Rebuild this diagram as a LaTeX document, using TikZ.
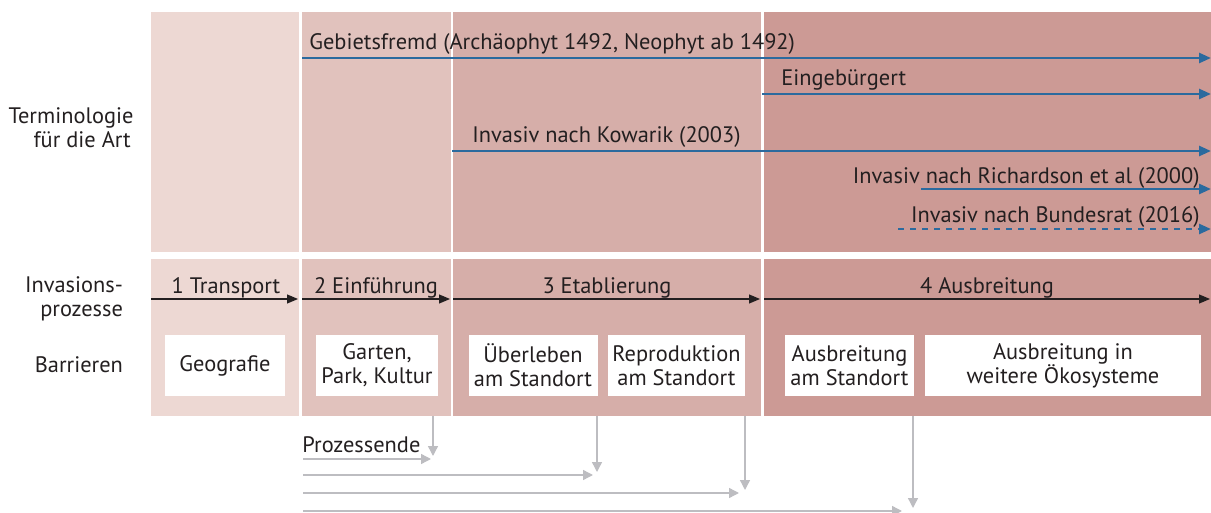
\documentclass[tikz,border=0pt]{standalone}
\usepackage{fontspec}
\setmainfont{PT Sans}
\usetikzlibrary{arrows.meta,positioning}
\definecolor{phaseA}{HTML}{EDD8D3}
\definecolor{phaseB}{HTML}{E1C2BD}
\definecolor{phaseC}{HTML}{D6AEA9}
\definecolor{phaseD}{HTML}{CC9A95}
\definecolor{termblue}{HTML}{2B6A9E}
\definecolor{inktext}{HTML}{231F20}
\definecolor{endgray}{HTML}{BDBDC1}
\tikzset{
  termarrow/.style={draw=termblue,line width=1.3pt,-{Triangle[length=6pt,width=5pt]}},
  procarrow/.style={draw=inktext,line width=0.6pt,-{Triangle[length=5.5pt,width=4.5pt]}},
  endarrow/.style={draw=endgray,line width=0.7pt,-{Triangle[length=5pt,width=5pt]}},
  barrierbox/.style={fill=white,minimum height=30.5pt,align=center,inner sep=0pt},
  sidelabel/.style={align=right,anchor=base east},
}
\begin{document}
\begin{tikzpicture}[x=0.5pt,y=-0.5pt,font=\fontsize{11.2}{12}\selectfont,text=inktext]
\useasboundingbox (0,0) rectangle (1211,513);

        %Background columns, terminology band
        \fill[phaseA] (151,12) rectangle (299,252); %transport
        \fill[phaseB] (302,12) rectangle (451,252); %introduction
        \fill[phaseC] (453,12) rectangle (761,252); %establishment
        \fill[phaseD] (764,12) rectangle (1211,252); %spread

        %Background columns, process band
        \fill[phaseA] (151,259) rectangle (299,416);
        \fill[phaseB] (302,259) rectangle (451,416);
        \fill[phaseC] (453,259) rectangle (761,416);
        \fill[phaseD] (764,259) rectangle (1211,416);

        %Row labels on the left
        \node[align=center] (termlabel) at (71,128) {Terminologie\\\hspace*{1em}für die Art};
        \node[sidelabel] (proclabel) at (130,317) {Invasions-\\prozesse};
        \node[sidelabel] (barrlabel) at (130,372) {Barrieren};

        %Terminology arrows
        \coordinate (gebS) at (302,58);   \coordinate (gebE) at (1211,58);
        \coordinate (einS) at (762,94);   \coordinate (einE) at (1211,94);
        \coordinate (kowS) at (452,151);  \coordinate (kowE) at (1211,151);
        \coordinate (ricS) at (921,189);  \coordinate (ricE) at (1211,189);
        \coordinate (bunS) at (898,229);  \coordinate (bunE) at (1211,229);
        \draw[termarrow] (gebS) -- (gebE);
        \draw[termarrow] (einS) -- (einE);
        \draw[termarrow] (kowS) -- (kowE);
        \draw[termarrow] (ricS) -- (ricE);
        \draw[termarrow,dashed] (bunS) -- (bunE);
        \node[anchor=base west,inner sep=0pt] (geblabel) at (309,50) {Gebietsfremd (Archäophyt 1492, Neophyt ab 1492)};
        \node[anchor=base west,inner sep=0pt] (einlabel) at (781,86) {Eingebürgert};
        \node[anchor=base west,inner sep=0pt] (kowlabel) at (472,143) {Invasiv nach Kowarik (2003)};
        \node[anchor=base east,inner sep=0pt] (riclabel) at (1200,184) {Invasiv nach Richardson et al (2000)};
        \node[anchor=base east,inner sep=0pt] (bunlabel) at (1200,223) {Invasiv nach Bundesrat (2016)};

        %Process arrows
        \coordinate (p0) at (151,299);
        \coordinate (p1) at (298,299); \coordinate (p1b) at (302,299);
        \coordinate (p2) at (450,299); \coordinate (p2b) at (453,299);
        \coordinate (p3) at (760,299); \coordinate (p3b) at (764,299);
        \coordinate (p4) at (1210,299);
        \draw[procarrow] (p0) -- (p1);
        \draw[procarrow] (p1b) -- (p2);
        \draw[procarrow] (p2b) -- (p3);
        \draw[procarrow] (p3b) -- (p4);
        \node[anchor=base,inner sep=0pt] (transport) at (226,294) {1 Transport};
        \node[anchor=base,inner sep=0pt] (einfuehrung) at (376,294) {2 Einführung};
        \node[anchor=base,inner sep=0pt] (etablierung) at (607,294) {3 Etablierung};
        \node[anchor=base,inner sep=0pt] (ausbreitung) at (987,294) {4 Ausbreitung};

        %Barriers
        \node[barrierbox,minimum width=60pt] (geo) at (225,365.5) {Geografie};
        \node[barrierbox,minimum width=61pt] (garten) at (377,365.5) {Garten,\\Park, Kultur};
        \node[barrierbox,minimum width=64.5pt] (ueberleben) at (533,365.5) {Überleben\\am Standort};
        \node[barrierbox,minimum width=68.5pt] (repro) at (676.5,365.5) {Reproduktion\\am Standort};
        \node[barrierbox,minimum width=64.5pt] (ausstand) at (849.5,365.5) {Ausbreitung\\am Standort};
        \node[barrierbox,minimum width=138pt] (ausweit) at (1063,365.5) {Ausbreitung in\\weitere Ökosysteme};

        %End of process arrows
        \node[anchor=base west,inner sep=0pt] (prozessende) at (302,452) {Prozessende};
        \coordinate (e1top) at (433,416);   \coordinate (e1end) at (433,456);
        \coordinate (e2top) at (597,416);   \coordinate (e2end) at (597,472);
        \coordinate (e3top) at (745,416);   \coordinate (e3end) at (745,490);
        \coordinate (e4top) at (913,416);   \coordinate (e4end) at (913,508);
        \coordinate (h1s) at (303,459);     \coordinate (h1e) at (431,459);
        \coordinate (h2s) at (303,475);     \coordinate (h2e) at (593,475);
        \coordinate (h3s) at (303,493);     \coordinate (h3e) at (739,493);
        \coordinate (h4s) at (303,511);     \coordinate (h4e) at (902,511);
        \draw[endarrow] (e1top) -- (e1end);
        \draw[endarrow] (e2top) -- (e2end);
        \draw[endarrow] (e3top) -- (e3end);
        \draw[endarrow] (e4top) -- (e4end);
        \draw[endarrow] (h1s) -- (h1e);
        \draw[endarrow] (h2s) -- (h2e);
        \draw[endarrow] (h3s) -- (h3e);
        \draw[endarrow] (h4s) -- (h4e);

\end{tikzpicture}
\end{document}
